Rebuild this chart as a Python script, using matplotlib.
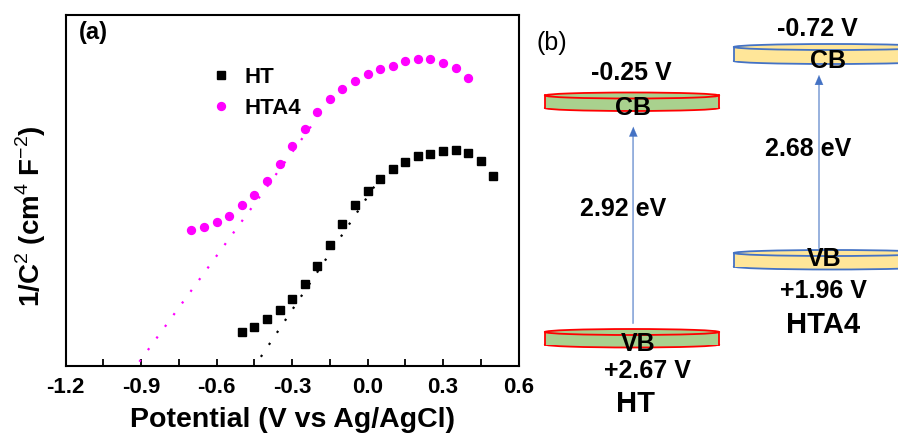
import matplotlib
matplotlib.use("Agg")
import matplotlib.pyplot as plt
from matplotlib.patches import Ellipse, Rectangle
from matplotlib.ticker import MultipleLocator

plt.rcParams['font.family'] = ['Liberation Sans', 'DejaVu Sans']
plt.rcParams['mathtext.fontset'] = 'custom'
plt.rcParams['mathtext.rm'] = 'Liberation Sans'
plt.rcParams['mathtext.bf'] = 'Liberation Sans:bold'

# ---------------- data: panel (a) ----------------
ht_x = [-0.50, -0.45, -0.40, -0.35, -0.30, -0.25, -0.20, -0.15, -0.10, -0.05,
        0.00, 0.05, 0.10, 0.15, 0.20, 0.25, 0.30, 0.35, 0.40, 0.45, 0.50]
ht_y = [9.8, 11.3, 13.4, 15.9, 19.1, 23.5, 28.5, 34.5, 40.4, 45.8,
        49.9, 53.4, 56.1, 58.2, 59.7, 60.5, 61.2, 61.5, 60.8, 58.5, 54.1]
hta4_x = [-0.70, -0.65, -0.60, -0.55, -0.50, -0.45, -0.40, -0.35, -0.30, -0.25,
          -0.20, -0.15, -0.10, -0.05, 0.00, 0.05, 0.10, 0.15, 0.20, 0.25,
          0.30, 0.35, 0.40]
hta4_y = [38.9, 39.5, 41.0, 42.8, 45.8, 48.7, 52.7, 57.6, 62.6, 67.6,
          72.4, 76.0, 79.0, 81.2, 83.1, 84.5, 85.5, 86.7, 87.3, 87.3,
          86.3, 84.8, 81.9]
ht_fit_x = [-0.424, 0.033]
ht_fit_y = [2.7, 51.8]
hta4_fit_x = [-0.907, -0.216]
hta4_fit_y = [1.3, 69.1]
series_labels = ['HT', 'HTA4']
xticks = [-1.2, -0.9, -0.6, -0.3, 0.0, 0.3, 0.6]
xtick_labels = ['-1.2', '-0.9', '-0.6', '-0.3', '0.0', '0.3', '0.6']

# ---------------- data: panel (b) ----------------
materials = ['HT', 'HTA4']
cb_levels = ['-0.25 V', '-0.72 V']
vb_levels = ['+2.67 V', '+1.96 V']
gaps = ['2.92 eV', '2.68 eV']

W, H = 898, 436
fig = plt.figure(figsize=(W / 100, H / 100), dpi=100)

ax = fig.add_axes([65.7 / W, 1 - 366.3 / H, (518.5 - 65.7) / W, (366.3 - 14.7) / H])
ax.plot(ht_fit_x, ht_fit_y, color='black', lw=1.6, ls=(0, (1.0, 5.5)), zorder=2)
ax.plot(hta4_fit_x, hta4_fit_y, color='#ff00ff', lw=1.6, ls=(0, (1.0, 5.5)), zorder=2)
l1, = ax.plot(ht_x, ht_y, ls='none', marker='s', ms=5.4, color='black', label=series_labels[0], zorder=3)
l2, = ax.plot(hta4_x, hta4_y, ls='none', marker='o', ms=5.7, color='#ff00ff', label=series_labels[1], zorder=3)
ax.set_xlim(-1.2, 0.6)
ax.set_ylim(0, 100)
ax.set_xticks(xticks)
ax.set_xticklabels(xtick_labels, fontsize=16, fontweight='bold')
ax.xaxis.set_minor_locator(MultipleLocator(0.15))
ax.tick_params(axis='x', which='both', direction='in', length=5, width=1.3, pad=8, top=False)
ax.set_yticks([])
for s in ax.spines.values():
    s.set_linewidth(1.5)
ax.set_xlabel('Potential (V vs Ag/AgCl)', fontsize=20.5, fontweight='bold', labelpad=6)
fig.text(31 / W, 1 - 216 / H, r'1/C$^{2}$ (cm$^{4}$ F$^{-2}$)', rotation=90,
         ha='center', va='center', fontsize=20, fontweight='bold')
ax.text(79 / W, 1 - 33 / H, '(a)', transform=fig.transFigure, fontsize=17,
        fontweight='bold', ha='left', va='center')
leg = ax.legend(handles=[l1, l2], loc='center left', bbox_to_anchor=(0.318, 0.778),
                frameon=False, prop={'weight': 'bold', 'size': 16},
                handlelength=1.0, handletextpad=0.56, borderpad=0, labelspacing=0.45,
                borderaxespad=0)

# ---------------- panel (b) ----------------
bx = fig.add_axes([0, 0, 1, 1], facecolor='none')
bx.set_xlim(0, W)
bx.set_ylim(H, 0)
bx.axis('off')


def cylinder(x0, x1, ytop, ybot, fill, edge):
    cx = (x0 + x1) / 2
    w = x1 - x0
    ry = 6
    yt = ytop + ry / 2
    yb = ybot - ry / 2
    bx.add_patch(Ellipse((cx, yb), w, ry, facecolor=fill, edgecolor=edge, lw=1.3, zorder=1))
    bx.add_patch(Rectangle((x0, yt), w, yb - yt, facecolor=fill, edgecolor='none', zorder=1.1))
    bx.plot([x0, x0], [yt, yb], color=edge, lw=1.3, zorder=1.2)
    bx.plot([x1, x1], [yt, yb], color=edge, lw=1.3, zorder=1.2)
    bx.add_patch(Ellipse((cx, yt), w, ry, facecolor=fill, edgecolor=edge, lw=1.3, zorder=1.3))


def arrow(x, y0, y1):
    bx.annotate('', xy=(x, y1), xytext=(x, y0),
                arrowprops=dict(arrowstyle='-|>,head_length=0.7,head_width=0.3',
                                color='#4472c4', lw=0.1, shrinkA=0, shrinkB=0), zorder=2)
    bx.plot([x, x], [y0, y1 + 8], color='#8faadc', lw=1.2, zorder=1.9)


tk = dict(fontsize=18, fontweight='bold', ha='center', va='center', zorder=3)

# HT
cylinder(545, 719, 92.5, 111, '#a9d18e', '#ff0000')
cylinder(545, 719, 329, 347.5, '#a9d18e', '#ff0000')
arrow(633.3, 323, 126.7)
bx.text(631.5, 73.5, cb_levels[0], **tk)
bx.text(633, 108, 'CB', **tk)
bx.text(638, 344, 'VB', **tk)
bx.text(623.5, 208.5, gaps[0], **tk)
bx.text(647.5, 370.5, vb_levels[0], **tk)
bx.text(636, 404, materials[0], fontsize=21, fontweight='bold', ha='center', va='center', zorder=3)

# HTA4
cylinder(734, 930, 44, 64, '#ffe699', '#4472c4')
cylinder(734, 930, 250, 269.5, '#ffe699', '#4472c4')
arrow(819, 248, 75)
bx.text(817.5, 28.5, cb_levels[1], **tk)
bx.text(828, 61, 'CB', **tk)
bx.text(824, 259, 'VB', **tk)
bx.text(808, 149, gaps[1], **tk)
bx.text(823, 290.5, vb_levels[1], **tk)
bx.text(823.5, 325, materials[1], fontsize=21, fontweight='bold', ha='center', va='center', zorder=3)

bx.text(551.5, 43, '(b)', fontsize=18, ha='center', va='center', zorder=3)

fig.savefig('out.png', dpi=100)
